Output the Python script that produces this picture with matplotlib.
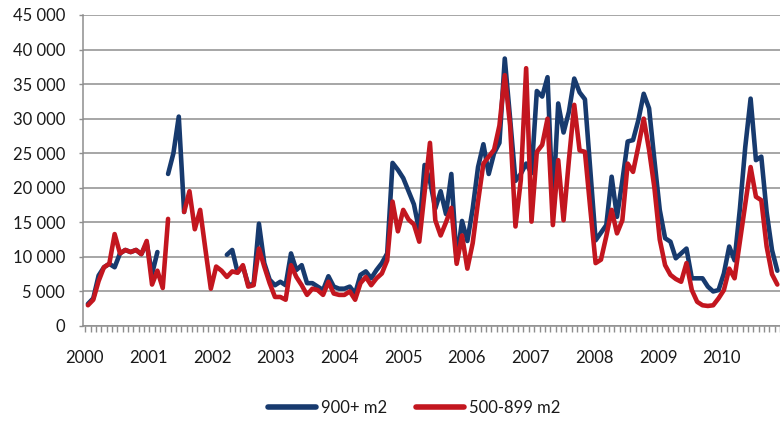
import matplotlib
matplotlib.use("Agg")
import numpy as np
import matplotlib.pyplot as plt
from matplotlib.ticker import FuncFormatter
from matplotlib.lines import Line2D

nan = np.nan

# ---- data (monthly, Jan 2000 onward) ----
year_labels = ["2000", "2001", "2002", "2003", "2004", "2005",
               "2006", "2007", "2008", "2009", "2010"]

series_names = ["900+ m2", "500-899 m2"]

large_900 = [
    3200, 4000, 7300, 8500, 9000, 8500, 10500, 11000, 10700, 11000, 10400, 12000,      # 2000
    7500, 10700, nan, 22000, 25000, 30300, 16500, nan, nan, nan, nan, nan,              # 2001
    nan, nan, 10300, 11000, 7800, 8600, 6000, 6000, 14800, 9100, 6700, 5900,            # 2002
    6400, 5900, 10500, 8100, 8800, 6200, 6200, 5700, 5200, 7200, 5700, 5400,            # 2003
    5400, 5700, 4700, 7400, 7900, 6900, 8100, 9100, 10500, 23600, 22600, 21400,         # 2004
    19500, 17600, 13800, 23300, 21000, 17000, 19500, 16200, 22000, 9400, 15200, 12300,  # 2005
    17000, 23000, 26300, 22000, 25000, 26500, 38700, 30000, 21000, 22000, 23500, 22100, # 2006
    34000, 33200, 36000, 17300, 32200, 28000, 31000, 35800, 33800, 32800, 22600, 12400, # 2007
    13500, 14600, 21600, 15800, 21000, 26700, 26900, 29800, 33600, 31500, 24000, 16800, # 2008
    12700, 12200, 9800, 10500, 11200, 6900, 6900, 6900, 5700, 5000, 5200, 7600,         # 2009
    11500, 9500, 17000, 25900, 32900, 24000, 24500, 16500, 11000, 8000,                 # 2010
]

mid_500_899 = [
    3000, 3800, 6500, 8500, 9000, 13300, 10500, 11000, 10700, 11000, 10400, 12300,      # 2000
    6000, 8000, 5500, 15500, nan, nan, 16500, 19500, 14000, 16800, 11000, 5400,         # 2001
    8600, 8000, 7100, 7900, 7700, 8800, 5700, 5900, 11200, 8600, 6200, 4200,            # 2002
    4200, 3800, 8800, 7100, 5900, 4500, 5400, 5200, 4500, 6400, 4700, 4500,             # 2003
    4500, 5000, 3800, 6200, 7100, 5900, 6900, 7600, 9500, 18000, 13700, 16800,          # 2004
    15400, 14700, 12200, 19300, 26500, 15300, 13100, 15000, 17100, 9000, 13100, 8300,   # 2005
    12000, 18000, 23500, 24500, 25500, 29000, 36300, 29000, 14400, 21100, 37300, 15100, # 2006
    25200, 26200, 30000, 14600, 24000, 15300, 24000, 32000, 25400, 25200, 17000, 9100,  # 2007
    9600, 13000, 16800, 13400, 15300, 23500, 22300, 26000, 30000, 25500, 20000, 12500,  # 2008
    8800, 7400, 6800, 6400, 9100, 5200, 3500, 3000, 2900, 3000, 4000, 5200,             # 2009
    8300, 6900, 12300, 17600, 23000, 18700, 18200, 11500, 7500, 6000,                   # 2010
]

# ---- style ----
BLUE = "#173A6E"
RED = "#C3161F"
GRID = "#8E8E8E"
TEXT = "#1A1A1A"
FONT = "Lato"
plt.rcParams["font.family"] = [FONT, "DejaVu Sans"]

W, H = 780, 421
fig = plt.figure(figsize=(W / 100, H / 100), dpi=100)
ax = fig.add_axes([83 / W, (H - 326) / H, (W - 83) / W, (326 - 15) / H])

x = np.arange(len(large_900))
for vals, col, name in [(large_900, BLUE, series_names[0]),
                        (mid_500_899, RED, series_names[1])]:
    ax.plot(x, vals, color=col, lw=3.3, solid_joinstyle="round",
            solid_capstyle="round", label=name, zorder=3)

ax.set_xlim(-0.92, 127.4)
ax.set_ylim(0, 45000)

# y axis
ax.set_yticks(np.arange(0, 45001, 5000))
ax.yaxis.set_major_formatter(FuncFormatter(lambda v, p: f"{int(v):,}".replace(",", " ")))
ax.grid(axis="y", color=GRID, lw=1.1, zorder=1)
ax.set_axisbelow(True)
ax.tick_params(axis="y", length=3, width=1, color=GRID, pad=10,
               labelsize=12, labelcolor=TEXT)

# x axis: year labels + monthly minor ticks
n_years = len(year_labels)
label_pos = np.arange(n_years) * 11.92 - 0.6
ax.set_xticks(label_pos)
ax.set_xticklabels(year_labels)
ax.set_xticks(np.arange(len(large_900) + 1) - 0.5, minor=True)
ax.tick_params(axis="x", which="major", length=0, pad=17,
               labelsize=12, labelcolor=TEXT)
ax.tick_params(axis="x", which="minor", length=4, width=1, color=GRID,
               direction="out")

for s in ["top", "right"]:
    ax.spines[s].set_visible(False)
for s in ["left", "bottom"]:
    ax.spines[s].set_color(GRID)
    ax.spines[s].set_linewidth(1.1)

handles = [Line2D([0], [0], color=BLUE, lw=4, solid_capstyle="round"),
           Line2D([0], [0], color=RED, lw=4, solid_capstyle="round")]
fig.legend(handles, series_names, loc="center", bbox_to_anchor=(414 / W, 1 - 408 / H),
           ncol=2, frameon=False, fontsize=12, handlelength=2.9,
           handletextpad=0.3, columnspacing=1.7, labelcolor=TEXT)

fig.savefig("out.png", dpi=100)
